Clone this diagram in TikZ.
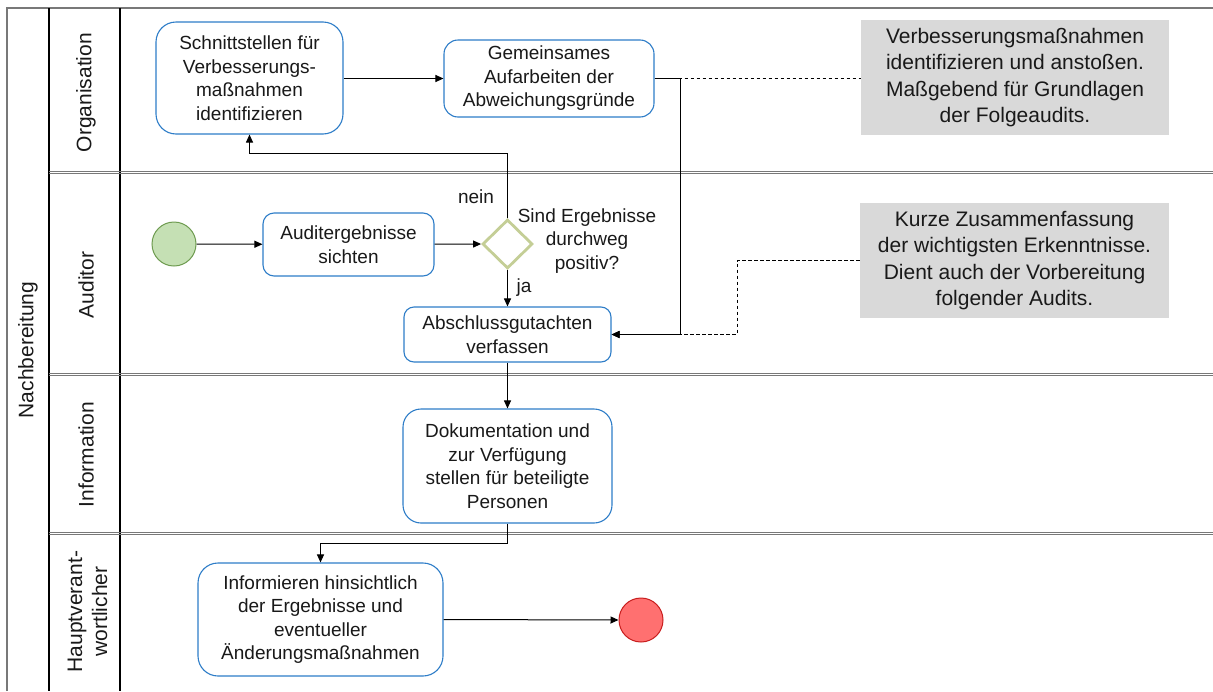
\documentclass[tikz,border=0pt]{standalone}
\usepackage{fontspec}
\setmainfont{Liberation Sans}
\usetikzlibrary{arrows.meta,shapes.geometric}

\definecolor{taskblue}{RGB}{46,125,200}
\definecolor{gatewaygreen}{RGB}{196,206,150}
\definecolor{startfill}{RGB}{197,224,180}
\definecolor{startdraw}{RGB}{110,155,80}
\definecolor{endfill}{RGB}{255,112,112}
\definecolor{enddraw}{RGB}{200,30,30}
\definecolor{notefill}{RGB}{217,217,217}
\definecolor{poolgray}{RGB}{120,120,120}
\definecolor{textdark}{RGB}{25,25,25}

\newcommand\boxfont{\fontsize{19}{23.5}\selectfont}
\newcommand\lanefont{\fontsize{21}{25}\selectfont}
\newcommand\notefont{\fontsize{21}{26.5}\selectfont}

\tikzset{
  tasknode/.style={draw=taskblue, line width=1.1pt, rounded corners=#1,
    align=center, font=\boxfont, text=textdark, inner sep=0pt, fill=white},
  notenode/.style={fill=notefill, align=center, font=\notefont,
    text=textdark, inner sep=0pt},
  lanelabel/.style={rotate=90, align=center, font=\lanefont, text=textdark},
  flow/.style={draw=black, line width=1pt, -{Triangle[length=8pt,width=7pt]}},
  plainflow/.style={draw=black, line width=1pt},
  assoc/.style={draw=black, line width=0.9pt, dash pattern=on 3.5pt off 2.5pt},
  flowlabel/.style={font=\boxfont, text=textdark, align=center, inner sep=0pt},
  laneline/.style={draw=black, line width=1.1pt},
  poolline/.style={draw=poolgray, line width=1.1pt},
  sepline/.style={draw=poolgray, line width=0.9pt}
}

\begin{document}
\begin{tikzpicture}[x=1pt,y=-1pt]
\useasboundingbox (0,0) rectangle (1213,691);

% pool frame and lane label column
\draw[poolline] (7,691) -- (7,8) -- (1213,8);
\draw[laneline] (49,8) -- (49,691);
\draw[laneline] (120,8) -- (120,691);

% lane separators (double lines)
\foreach \yy in {171.5,373.5,532.5} {
  \draw[sepline] (49,\yy) -- (1213,\yy);
  \draw[sepline] (49,\yy+2.4) -- (1213,\yy+2.4);
}

% pool and lane titles
\node[lanelabel] (poolname) at (28,350) {Nachbereitung};
\node[lanelabel] (lane1) at (86,92.5) {Organisation};
\node[lanelabel] (lane2) at (86,285) {Auditor};
\node[lanelabel] (lane3) at (86,454.5) {Information};
\node[lanelabel] (lane4) at (87.5,611.5) {Hauptverant-\\wortlicher};

% Organisation lane
\node[tasknode=20pt, minimum width=187pt, minimum height=112pt] (box1) at (249.5,78)
  {Schnittstellen für\\Verbesserungs-\\maßnahmen\\identifizieren};
\node[tasknode=14pt, minimum width=210pt, minimum height=77pt] (box2) at (549,78.5)
  {Gemeinsames\\Aufarbeiten der\\Abweichungsgründe};
\node[notenode, minimum width=308pt, minimum height=115pt] (note1) at (1015,77.5)
  {Verbesserungsmaßnahmen\\identifizieren und anstoßen.\\Maßgebend für Grundlagen\\der Folgeaudits.};

% Auditor lane
\node[circle, draw=startdraw, fill=startfill, line width=1pt, minimum size=44pt, inner sep=0pt] (start) at (174,244) {};
\node[tasknode=11pt, minimum width=171pt, minimum height=63pt] (audit) at (348.5,244.5)
  {Auditergebnisse\\sichten};
\node[diamond, draw=gatewaygreen, line width=2.8pt, fill=white, minimum width=50pt, minimum height=49pt, inner sep=0pt] (gate) at (507.5,244) {};
\node[flowlabel] (gatetext) at (587,241) {Sind Ergebnisse\\durchweg\\positiv?};
\node[tasknode=10pt, minimum width=207pt, minimum height=55pt] (abs) at (507.5,334.5)
  {Abschlussgutachten\\verfassen};
\node[notenode, minimum width=309pt, minimum height=115pt] (note2) at (1014.5,260.5)
  {Kurze Zusammenfassung\\der wichtigsten Erkenntnisse.\\Dient auch der Vorbereitung\\folgender Audits.};

% Information lane
\node[tasknode=18pt, minimum width=209pt, minimum height=114pt] (dok) at (507.5,466)
  {Dokumentation und\\zur Verfügung\\stellen für beteiligte\\Personen};

% Hauptverantwortlicher lane
\node[tasknode=20pt, minimum width=245pt, minimum height=113pt] (info) at (320.5,619.5)
  {Informieren hinsichtlich\\der Ergebnisse und\\eventueller\\Änderungsmaßnahmen};
\node[circle, draw=enddraw, fill=endfill, line width=1pt, minimum size=44pt, inner sep=0pt] (end) at (641,620) {};

% routing points
\coordinate (neinbend) at (507.5,153.5);
\coordinate (orgbend) at (680,78.5);
\coordinate (notebend) at (737,334.5);
\coordinate (dokbend) at (507.5,543);

% sequence flows
\draw[flow] (start) -- (audit);
\draw[flow] (audit) -- (gate.west);
\draw[flow] (gate.north) -- (neinbend) -| (box1.south);
\node[flowlabel] (nein) at (476,197) {nein};
\draw[flow] (gate.south) -- (abs.north);
\node[flowlabel] (ja) at (524,288) {ja};
\draw[flow] (box1.east |- box2.west) -- (box2.west);
\draw[flow] (box2.east) -- (orgbend) |- (abs.east);
\draw[flow] (abs.south) -- (dok.north);
\draw[flow] (dok.south) -- (dokbend) -| (info.north);
\draw[flow] (info.east) -- (end.west);

% associations to the annotations
\draw[assoc] (box2.east) -- (box2.east -| note1.west);
\draw[assoc, -{Triangle[length=8pt,width=7pt]}] (note2.west) -| (notebend) -- (abs.east);

\end{tikzpicture}
\end{document}
